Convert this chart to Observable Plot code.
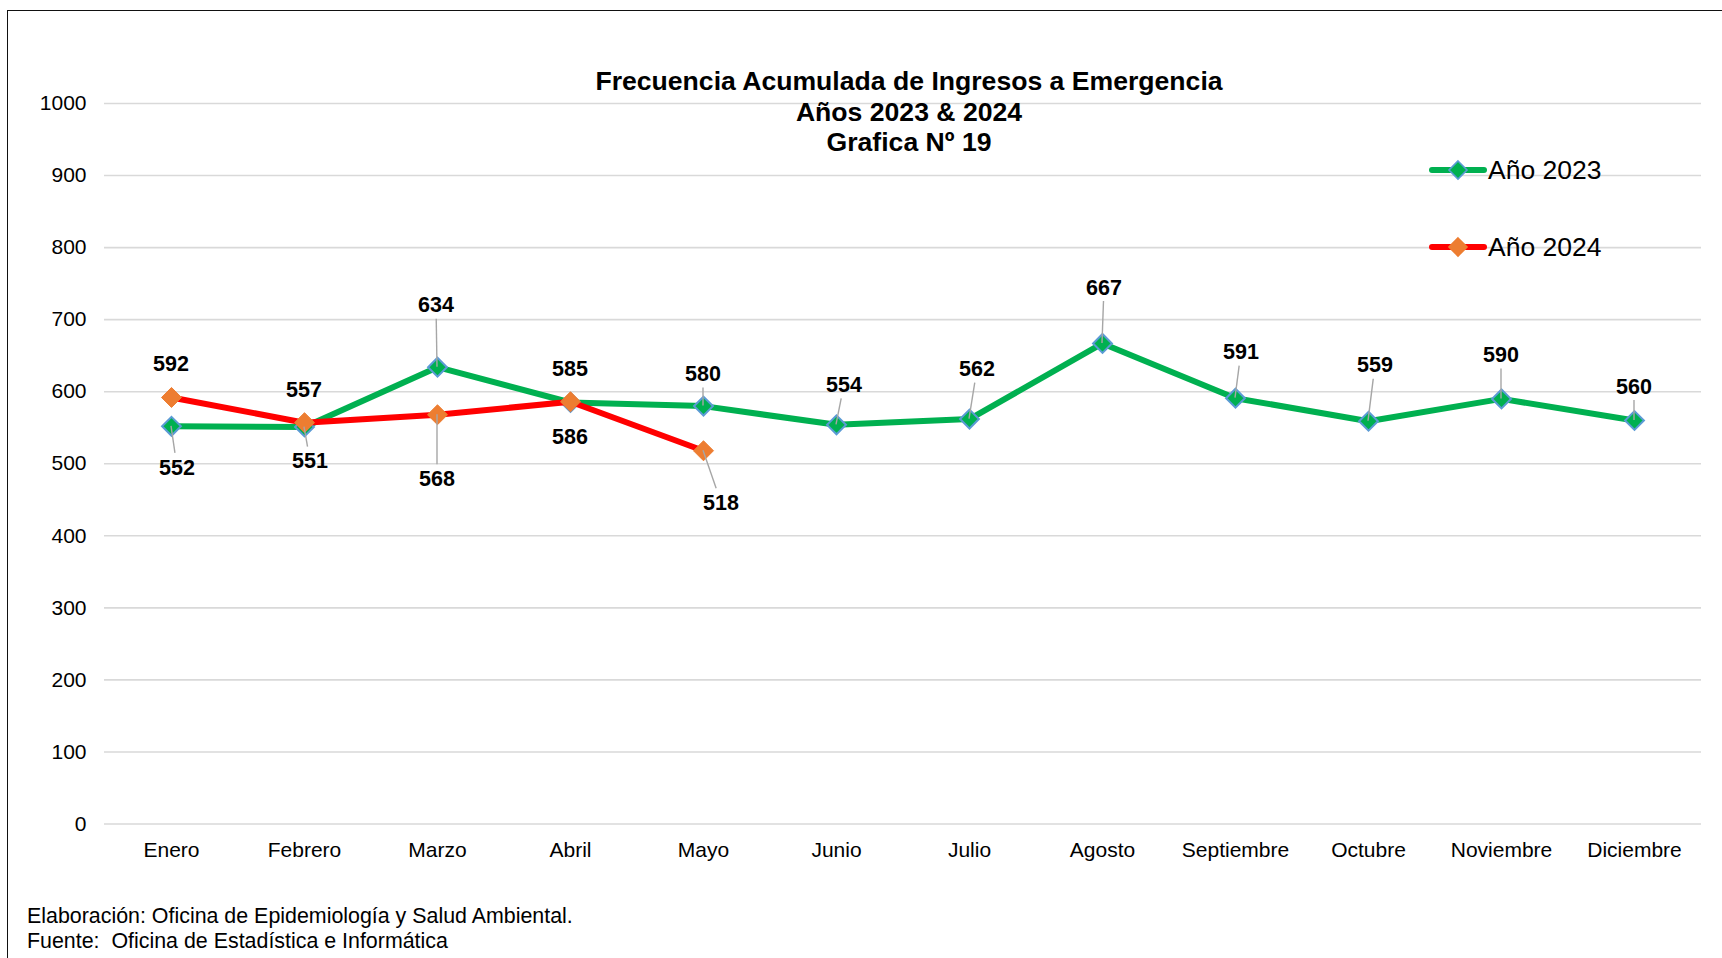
<!DOCTYPE html>
<html>
<head>
<meta charset="utf-8">
<script src="https://cdn.jsdelivr.net/npm/d3@7"></script>
<script src="https://cdn.jsdelivr.net/npm/@observablehq/plot@0.6"></script>
<style>
  html, body { margin: 0; padding: 0; background: #fff; overflow: hidden; width: 1722px; height: 958px; }
  body { position: relative; font-family: "Liberation Sans", Arial, sans-serif; color: #000; }
  #frame { position: absolute; left: 7px; top: 10px; width: 1800px; height: 1000px; border: 1.5px solid #111; box-sizing: border-box; }
  #chart { position: absolute; left: 0; top: 0; }
  #title { position: absolute; left: 0; width: 1818px; top: 66px; text-align: center; font-weight: bold; font-size: 26.6px; line-height: 30.5px; }
  #legend { position: absolute; left: 1429px; top: 150px; font-size: 26.5px; }
  .lg { position: absolute; left: 0; display: flex; align-items: center; white-space: nowrap; }
  #caption { position: absolute; left: 27px; top: 904px; font-size: 21.4px; line-height: 25px; }
</style>
</head>
<body>
<div id="frame"></div>
<div id="chart"></div>
<div id="title"></div>
<div id="legend"></div>
<div id="caption"></div>
<script>
// ---- data ----
const months = ["Enero","Febrero","Marzo","Abril","Mayo","Junio","Julio","Agosto","Septiembre","Octubre","Noviembre","Diciembre"];
const values2023 = [552, 551, 634, 585, 580, 554, 562, 667, 591, 559, 590, 560];
const values2024 = [592, 557, 568, 586, 518];
const seriesNames = ["Año 2023", "Año 2024"];
const yTicks = [0, 100, 200, 300, 400, 500, 600, 700, 800, 900, 1000];
const titleLines = ["Frecuencia Acumulada de Ingresos a Emergencia", "Años 2023 & 2024", "Grafica Nº 19"];
const captionLines = ["Elaboración: Oficina de Epidemiología y Salud Ambiental.", "Fuente:  Oficina de Estadística e Informática"];

// ---- label layout (pixel nudges, leader flag) ----
const labelLayout2023 = [[6,41,1],[6,34,1],[-1,-62,1],[0,-34,0],[0,-32,1],[8,-40,1],[8,-50,1],[2,-56,1],[6,-46,1],[7,-56,1],[0,-44,1],[0,-34,1]];
const labelLayout2024 = [[0,-34,0],[0,-33,0],[0,64,1],[0,35,0],[18,52,1]];

const colors = {
  line2023: "#00B050", fill2023: "#00B050", stroke2023: "#5B9BD5",
  line2024: "#FF0000", fill2024: "#ED7D31", stroke2024: "#ED7D31",
  grid: "#D9D9D9", leader: "#A6A6A6"
};

const rows2023 = values2023.map((v, i) => ({month: months[i], value: v, series: seriesNames[0], layout: labelLayout2023[i]}));
const rows2024 = values2024.map((v, i) => ({month: months[i], value: v, series: seriesNames[1], layout: labelLayout2024[i]}));

function labelMark(rows) {
  return (index, scales) => {
    const g = d3.create("svg:g");
    for (const d of rows) {
      const x = scales.x(d.month), y = scales.y(d.value);
      const [dx, dy, leader] = d.layout;
      const lx = x + dx, ly = y + dy;
      if (leader) {
        const ey = ly - Math.sign(dy) * 14;
        const t = (ey - y) / dy;
        g.append("line").attr("x1", x).attr("y1", y).attr("x2", x + dx * t).attr("y2", ey)
          .attr("stroke", colors.leader).attr("stroke-width", 1.4);
      }
      g.append("text").attr("x", lx).attr("y", ly).attr("dy", "0.36em")
        .attr("text-anchor", "middle").attr("font-weight", "bold").attr("font-size", 21.5)
        .attr("fill", "#000").text(d.value);
    }
    return g.node();
  };
}

const plot = Plot.plot({
  width: 1722,
  height: 870,
  marginLeft: 104,
  marginRight: 21,
  marginTop: 103,
  marginBottom: 46.5,
  style: {fontFamily: "'Liberation Sans', Arial, sans-serif", fontSize: "21px", color: "#000", background: "transparent", overflow: "visible"},
  x: {type: "point", domain: months, padding: 0.5, label: null, tickSize: 0, tickPadding: 18},
  y: {domain: [0, 1000], ticks: yTicks, tickFormat: d3.format("d"), label: null, tickSize: 0, tickPadding: 18},
  marks: [
    Plot.ruleY(yTicks, {stroke: colors.grid, strokeWidth: 1.6}),
    Plot.line(rows2023, {x: "month", y: "value", stroke: colors.line2023, strokeWidth: 6, strokeLinejoin: "round"}),
    Plot.dot(rows2023, {x: "month", y: "value", symbol: "diamond2", r: 8.5, fill: colors.fill2023, stroke: colors.stroke2023, strokeWidth: 2}),
    Plot.line(rows2024, {x: "month", y: "value", stroke: colors.line2024, strokeWidth: 6, strokeLinejoin: "round"}),
    Plot.dot(rows2024, {x: "month", y: "value", symbol: "diamond2", r: 9, fill: colors.fill2024, stroke: colors.stroke2024, strokeWidth: 1}),
    labelMark(rows2023),
    labelMark(rows2024)
  ]
});
document.getElementById("chart").appendChild(plot);

// title
document.getElementById("title").innerHTML = titleLines.map(t => `<div>${t}</div>`).join("");
// caption
document.getElementById("caption").innerHTML = captionLines.map(t => `<div style="white-space:pre">${t}</div>`).join("");
// legend
const legendItems = [
  {name: seriesNames[0], line: colors.line2023, fill: colors.fill2023, stroke: colors.stroke2023, top: 0},
  {name: seriesNames[1], line: colors.line2024, fill: colors.fill2024, stroke: colors.stroke2024, top: 77}
];
const legend = document.getElementById("legend");
for (const it of legendItems) {
  const div = document.createElement("div");
  div.className = "lg";
  div.style.top = it.top + "px";
  div.innerHTML = `<svg width="58" height="40" style="display:block">
    <line x1="3" y1="20" x2="55" y2="20" stroke="${it.line}" stroke-width="6" stroke-linecap="round"/>
    <path d="M29,11 L38,20 L29,29 L20,20 Z" fill="${it.fill}" stroke="${it.stroke}" stroke-width="1.6"/>
  </svg><span style="margin-left:1px">${it.name}</span>`;
  legend.appendChild(div);
}
</script>
</body>
</html>
